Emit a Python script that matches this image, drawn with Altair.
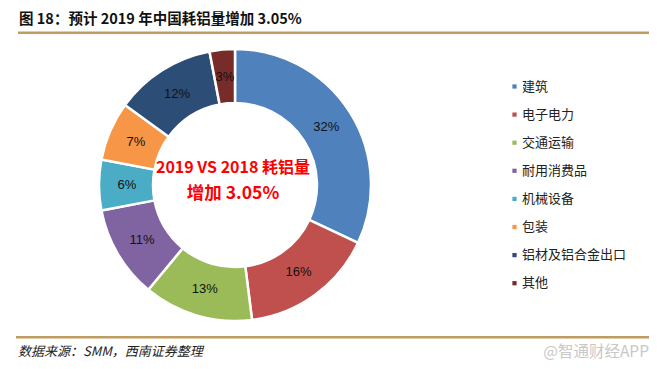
import altair as alt
import pandas as pd

categories = ["建筑", "电子电力", "交通运输", "耐用消费品", "机械设备", "包装", "铝材及铝合金出口", "其他"]
values = [32, 16, 13, 11, 6, 7, 12, 3]
labels = ["32%", "16%", "13%", "11%", "6%", "7%", "12%", "3%"]
colors = ["#4F81BD", "#C0504D", "#9BBB59", "#8064A2", "#4BACC6", "#F79646", "#2C4D75", "#772C2A"]

title_text = "图 18：预计 2019 年中国耗铝量增加 3.05%"
center_line1 = "2019 VS 2018 耗铝量"
center_line2 = "增加 3.05%"
source_text = "数据来源：SMM，西南证券整理"
watermark = "@智通财经APP"

df = pd.DataFrame({"cat": categories, "val": values, "lab": labels, "idx": list(range(len(categories)))})

W, H = 641, 353
CX, CY = 227, 177
CJK = "Noto Sans CJK SC"

base = alt.Chart(df).encode(
    theta=alt.Theta("val:Q", stack=True),
    order=alt.Order("idx:Q", sort="ascending"),
    x=alt.value(CX),
    y=alt.value(CY),
)

arcs = base.mark_arc(outerRadius=136, innerRadius=82, stroke="white", strokeWidth=2.5).encode(
    color=alt.Color(
        "cat:N",
        scale=alt.Scale(domain=categories, range=colors),
        sort=categories,
        legend=alt.Legend(
            title=None,
            orient="none",
            legendX=500,
            legendY=72,
            symbolType="square",
            symbolSize=18,
            symbolStrokeWidth=0,
            labelFont=CJK,
            labelFontSize=13,
            labelColor="#222",
            labelOffset=1,
            rowPadding=14.1,
            labelLimit=200,
        ),
    )
)

texts = base.mark_text(radius=108, font="Liberation Sans", fontSize=13, color="#111").encode(
    text="lab:N"
)

one = alt.Data(values=[{}])

def txt(s, x, y, **kw):
    return alt.Chart(one).mark_text(**kw).encode(x=alt.value(x), y=alt.value(y), text=alt.value(s))

def band(x1, x2, y1, y2, color):
    return alt.Chart(one).mark_rect(color=color, strokeWidth=0).encode(
        x=alt.value(x1), x2=alt.value(x2), y=alt.value(y1), y2=alt.value(y2)
    )

title = txt(title_text, 11, 12, align="left", baseline="middle", font=CJK, fontSize=14.5, fontWeight="bold", color="#111")
top_line = band(10, 641, 23.5, 26, "#BE9B60")
bottom_line = band(8, 641, 328, 330.5, "#BE9B60")
c1 = txt(center_line1, 225, 160, align="center", baseline="middle", font=CJK, fontSize=16, fontWeight="bold", color="#FF0000")
c2 = txt(center_line2, 225, 186, align="center", baseline="middle", font=CJK, fontSize=17.5, fontWeight="bold", color="#FF0000")
src = txt(source_text, 10, 344, align="left", baseline="middle", font=CJK, fontSize=13, fontStyle="italic", color="#222")
wm = txt(watermark, 641, 344, align="right", baseline="middle", font=CJK, fontSize=15.5, color="#C8C8C8")

chart = alt.layer(arcs, texts, title, top_line, bottom_line, c1, c2, src, wm).properties(
    width=W, height=H, padding=0, background="white", autosize=alt.AutoSizeParams(type="none")
).configure_view(stroke=None, strokeWidth=0)

chart.save("out.html", embed_options={"renderer": "svg", "actions": False})
